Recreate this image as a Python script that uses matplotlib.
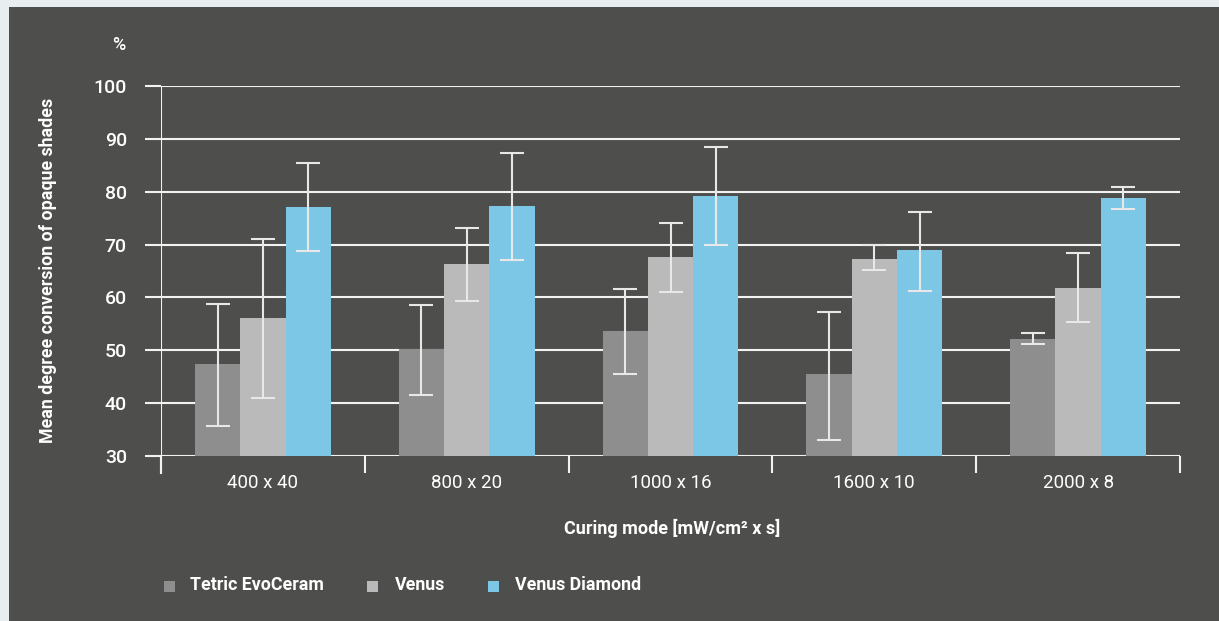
import matplotlib
matplotlib.use("Agg")
import matplotlib.pyplot as plt
from matplotlib.patches import Rectangle
import numpy as np

categories = ["400 x 40", "800 x 20", "1000 x 16", "1600 x 10", "2000 x 8"]
series = ["Tetric EvoCeram", "Venus", "Venus Diamond"]
tetric = [47.4, 50.2, 53.6, 45.5, 52.1]
tetric_lo = [35.7, 41.5, 45.6, 33.1, 51.2]
tetric_hi = [58.8, 58.6, 61.6, 57.2, 53.3]
venus = [56.1, 66.3, 67.6, 67.3, 61.8]
venus_lo = [40.9, 59.3, 61.0, 65.2, 55.3]
venus_hi = [71.1, 73.2, 74.1, 69.9, 68.4]
diamond = [77.1, 77.3, 79.2, 69.0, 78.8]
diamond_lo = [68.8, 67.1, 69.9, 61.3, 76.7]
diamond_hi = [85.5, 87.3, 88.4, 76.2, 80.9]
yticks = [30, 40, 50, 60, 70, 80, 90, 100]

colors = ["#8e8e8e", "#bababa", "#7cc7e6"]
BG = "#4e4e4c"
FG = "#ffffff"
plt.rcParams['font.family'] = ['Roboto', 'DejaVu Sans']

W, H = 1219, 621
fig = plt.figure(figsize=(W/100, H/100), dpi=100)
fig.patch.set_facecolor("#e8eef0")
fig.patches.append(Rectangle((9/W, 0), 1 - 9/W, 1 - 7/H, transform=fig.transFigure,
                             facecolor=BG, edgecolor="none", zorder=-10))

ax = fig.add_axes([161/W, 1 - 456/H, (1180-161)/W, (456-86)/H])
ax.set_zorder(1)
ax.set_facecolor("none")
for s in ax.spines.values():
    s.set_visible(False)

x = np.arange(len(categories))
bw = 0.222
data = [(tetric, tetric_lo, tetric_hi), (venus, venus_lo, venus_hi), (diamond, diamond_lo, diamond_hi)]
for i, (vals, lo, hi) in enumerate(data):
    pos = x + (i - 1) * bw
    vals = np.array(vals); lo = np.array(lo); hi = np.array(hi)
    ax.bar(pos, vals - 30, bottom=30, width=bw, color=colors[i], zorder=3, label=series[i])
    ax.errorbar(pos, vals, yerr=[vals - lo, hi - vals], fmt="none", ecolor="#e8e8e8",
                elinewidth=1.5, capsize=8.3, capthick=1.5, zorder=4)

ax.set_xlim(-0.5, len(categories) - 0.5)
ax.set_ylim(30, 100)
ax.set_yticks(yticks)
ax.set_yticklabels([str(t) for t in yticks], fontsize=14, color=FG, fontweight="medium")
ax.set_axisbelow(True)
ax.yaxis.grid(True, color="#f2f2f2", linewidth=1.5)
ax.tick_params(axis="y", length=11.5, width=1.5, color="#f2f2f2", pad=13)
ax.set_xticks(x)
ax.set_xticklabels(categories, fontsize=13.5, color=FG)
ax.set_xticks(np.arange(-0.5, len(categories)), minor=True)
ax.tick_params(axis="x", which="major", length=0, pad=13)
ax.tick_params(axis="x", which="minor", length=12.5, width=1.5, color="#f2f2f2")
ax.axvline(-0.5, ymin=0, ymax=1, color="#f2f2f2", linewidth=1.5, zorder=2)
ax.axvline(-0.5, ymin=-17/370, ymax=0, color="#f2f2f2", linewidth=1.5, clip_on=False)

fig.text(119/W, 1 - 45/H, "%", fontsize=13, color=FG, ha="center", va="center", fontweight="medium")
fig.text(48/W, 1 - 270/H, "Mean degree conversion of opaque shades", rotation=90, fontsize=12.8,
         color=FG, fontweight="bold", ha="center", va="center")
fig.text(672/W, 1 - 528/H, "Curing mode [mW/cm² x s]", fontsize=13, color=FG,
         fontweight="bold", ha="center", va="center")

sq_x = [170, 373, 494]
txt_x = [190, 395, 515]
for i, name in enumerate(series):
    fig.patches.append(Rectangle(((sq_x[i]-6)/W, 1 - (586+5.5)/H), 11/W, 11/H,
                                 transform=fig.transFigure, facecolor=colors[i], edgecolor="none"))
    fig.text(txt_x[i]/W, 1 - 585/H, name, fontsize=12.8, color=FG, fontweight="bold",
             ha="left", va="center")

fig.savefig("out.png", dpi=100, facecolor=fig.get_facecolor())
